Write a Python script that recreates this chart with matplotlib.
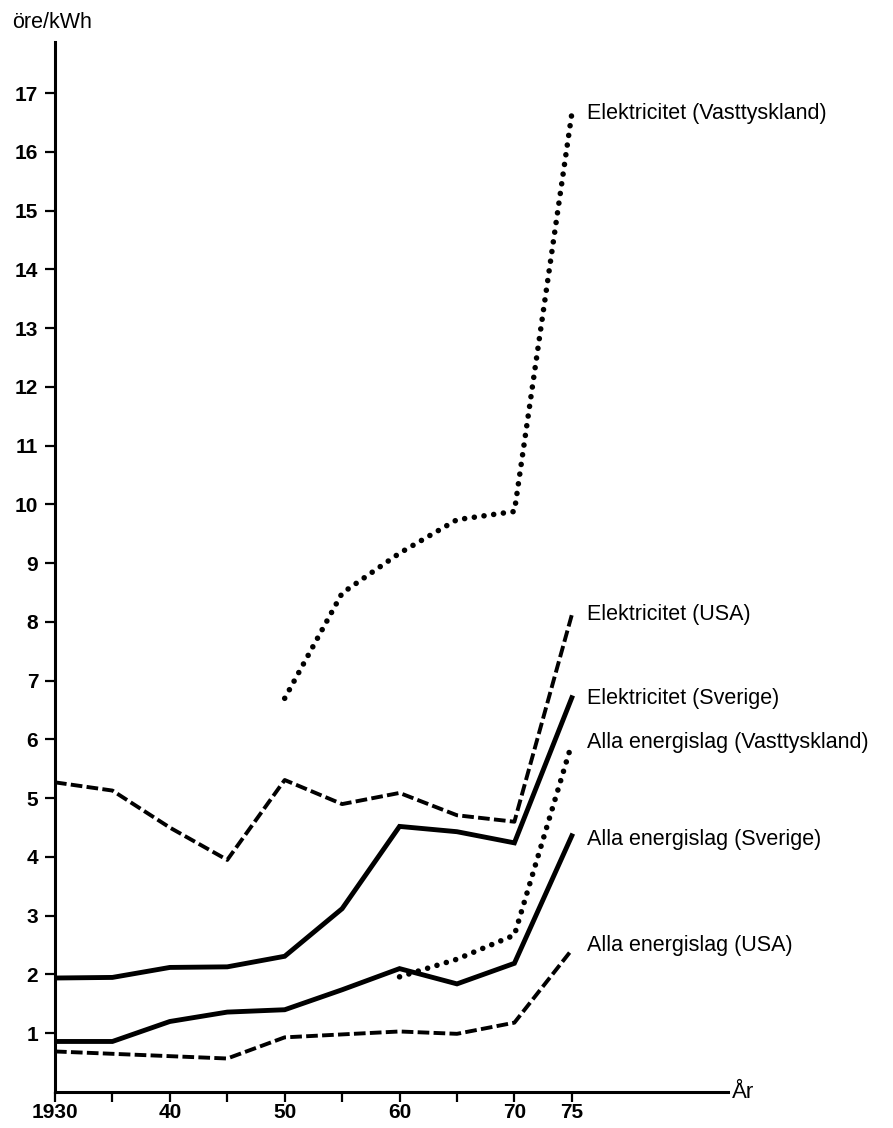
import matplotlib

matplotlib.use("Agg")
import matplotlib.pyplot as plt

plt.rcParams["font.family"] = ["Liberation Sans", "DejaVu Sans"]

years = [1930, 1935, 1940, 1945, 1950, 1955, 1960, 1965, 1970, 1975]
el_usa = [5.27, 5.13, 4.5, 3.95, 5.31, 4.9, 5.09, 4.71, 4.6, 8.12]
el_sverige = [1.94, 1.95, 2.12, 2.13, 2.31, 3.12, 4.52, 4.43, 4.24, 6.71]
alla_sverige = [0.86, 0.86, 1.2, 1.36, 1.40, 1.74, 2.1, 1.84, 2.19, 4.36]
alla_usa = [0.69, 0.65, 0.61, 0.57, 0.93, 0.98, 1.03, 0.99, 1.18, 2.42]

years_vt_el = [1950, 1955, 1960, 1965, 1970, 1975]
el_vasttyskland = [6.70, 8.49, 9.17, 9.74, 9.88, 16.65]
years_vt_alla = [1960, 1965, 1970, 1975]
alla_vasttyskland = [1.96, 2.26, 2.67, 5.93]

labels = [
    ("Elektricitet (Vasttyskland)", 16.65),
    ("Elektricitet (USA)", 8.12),
    ("Elektricitet (Sverige)", 6.7),
    ("Alla energislag (Vasttyskland)", 5.95),
    ("Alla energislag (Sverige)", 4.3),
    ("Alla energislag (USA)", 2.5),
]

y_ticks = list(range(1, 18))
x_ticks = [1930, 1935, 1940, 1945, 1950, 1955, 1960, 1965, 1970, 1975]
x_tick_labels = ["1930", "", "40", "", "50", "", "60", "", "70", "75"]

fig = plt.figure(figsize=(8.93, 11.28), dpi=100)
ax = fig.add_axes([55 / 893, 1 - 1092 / 1128, (728 - 55) / 893, (1092 - 42) / 1128])
ax.set_xlim(1930, 1988.6)
ax.set_ylim(0, 17.87)

dashed = (0, (3, 1.1))
dotted = (0, (0.01, 1.75))

ax.plot(years, el_usa, color="black", lw=2.8, linestyle=dashed)
ax.plot(years, alla_usa, color="black", lw=2.8, linestyle=dashed)
ax.plot(years, el_sverige, color="black", lw=3.5, solid_joinstyle="miter")
ax.plot(years, alla_sverige, color="black", lw=3.5, solid_joinstyle="miter")
ax.plot(years_vt_el, el_vasttyskland, color="black", lw=4.0, linestyle=dotted,
        dash_capstyle="round")
ax.plot(years_vt_alla, alla_vasttyskland, color="black", lw=4.0, linestyle=dotted,
        dash_capstyle="round")

for text, y in labels:
    ax.text(1976.3, y, text, ha="left", va="center", fontsize=15.5, clip_on=False)

for side in ["top", "right"]:
    ax.spines[side].set_visible(False)
for side in ["left", "bottom"]:
    ax.spines[side].set_linewidth(2.2)

ax.set_yticks(y_ticks)
ax.set_yticklabels([str(t) for t in y_ticks], fontsize=15, fontweight="bold")
ax.set_xticks(x_ticks)
ax.set_xticklabels(x_tick_labels, fontsize=15, fontweight="bold")
ax.tick_params(axis="y", direction="out", length=7, width=1.6, pad=5)
ax.tick_params(axis="x", direction="out", length=7, width=1.6, pad=1)

ax.text(1988.9, 0, "År", ha="left", va="center", fontsize=16, clip_on=False)
fig.text(12 / 893, 1 - 23 / 1128, "öre/kWh", ha="left", va="center", fontsize=15.5)

fig.savefig("out.png", dpi=100)
